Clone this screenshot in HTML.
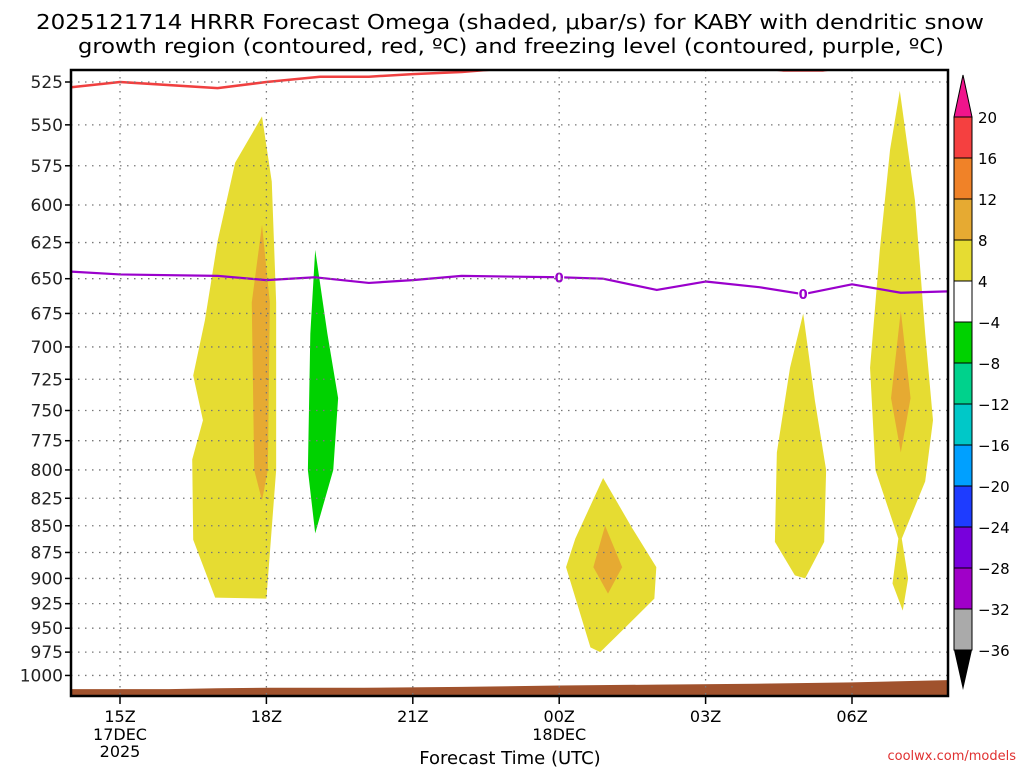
<!DOCTYPE html>
<html><head><meta charset="utf-8"><style>
body{margin:0;background:#fff;}
svg text{font-family:"DejaVu Sans","Liberation Sans",sans-serif;}
</style></head><body>
<svg id="c" width="1024" height="768" xmlns="http://www.w3.org/2000/svg">
<text x="36" y="29" font-size="20" textLength="948" lengthAdjust="spacingAndGlyphs">2025121714 HRRR Forecast Omega (shaded, μbar/s) for KABY with dendritic snow</text>
<text x="78" y="53" font-size="20" textLength="866" lengthAdjust="spacingAndGlyphs">growth region (contoured, red, ºC) and freezing level (contoured, purple, ºC)</text>
<g id="plot"></g>
<text x="510" y="764" font-size="18" text-anchor="middle">Forecast Time (UTC)</text>
<text x="1016" y="760" font-size="13" fill="#e03030" text-anchor="end">coolwx.com/models</text>
</svg>
<script>
const pTicks=[525,550,575,600,625,650,675,700,725,750,775,800,825,850,875,900,925,950,975,1000];
const xHours=[15,18,21,24,27,30];
const xLabels=["15Z","18Z","21Z","00Z","03Z","06Z"];
const xSub=["17DEC","","","18DEC","",""];
const cbLevels=["20","16","12","8","4","−4","−8","−12","−16","−20","−24","−28","−32","−36"];
const cbColors=["#f54040","#f08228","#e6aa32","#e6dc32","#ffffff","#00d200","#00d28c","#00c8c8","#00a0ff","#1e3cff","#7800dc","#a000c8","#aaaaaa"];
const yellowA=[[17.91,545],[18.11,585],[18.2,667],[18.2,800],[18.0,920],[16.95,919],[16.5,863],[16.48,791],[16.7,758],[16.5,722],[16.74,680],[17.0,624],[17.36,573]];
const orangeA=[[17.91,613],[18.07,667],[18.03,800],[17.91,827],[17.75,800],[17.7,667]];
const greenA=[[19.0,630],[19.25,690],[19.47,740],[19.37,800],[19.0,857],[18.85,800],[18.9,690]];
const yellowB=[[24.9,807],[25.48,851],[25.99,889],[25.95,920],[25.4,947],[24.84,975],[24.64,970],[24.14,889],[24.33,862]];
const orangeB=[[24.94,850],[25.29,889],[25.0,915],[24.7,889]];
const yellowC=[[29.0,675],[29.24,742],[29.47,800],[29.43,865],[29.04,900],[28.83,897],[28.42,865],[28.46,785],[28.73,716]];
const yellowD=[[30.98,530],[31.29,597],[31.5,690],[31.66,758],[31.5,810],[31.02,862],[31.15,900],[31.04,932],[30.83,905],[30.95,862],[30.48,800],[30.37,716],[30.57,630],[30.78,565]];
const orangeD=[[31.0,673],[31.2,740],[31.0,785],[30.8,740]];
const frzHours=[14,15,17,18,19,20.1,21,22,24,24.9,26,27,28.1,29,30,31,32];
const frzP=[645,647,648,651,649,653,651,648,649,650,658,652,656,661,654,660,659];
const redHours=[14,15,17,18,19.1,20.1,21,22,22.6,23.2];
const redP=[528,525,528.5,525,522,522,520.5,519.3,518,515];
const red2Hours=[27.8,28.6,29.4,30.0];
const red2P=[516,518.5,518.5,516];
const sfcHours=[14,16,17,18,20,22,24,26,28,30,32];
const sfcP=[1015,1015,1014,1013.5,1013.5,1012.5,1011,1010,1009,1007.5,1005];
const L=71,R=948,T=70,B=696;
const X=h=>120+(h-15)*48.8;
const Y=p=>82+Math.log(p/525)*921;
const NS="http://www.w3.org/2000/svg";
const g=document.getElementById('plot');
function mk(t,a,parent){const e=document.createElementNS(NS,t);for(const k in a)e.setAttribute(k,a[k]);(parent||g).appendChild(e);return e;}
const defs=mk('defs',{});const cp=mk('clipPath',{id:'clip'},defs);mk('rect',{x:L,y:T,width:R-L,height:B-T},cp);
const data=mk('g',{'clip-path':'url(#clip)'});
function poly(arr,fill,name){const e=mk('polygon',{points:arr.map(d=>X(d[0])+','+Y(d[1])).join(' '),fill:fill},data);

}
poly(yellowA,'#e6dc32','omega-4-8-region-a');poly(orangeA,'#e6aa32','omega-8-12-region-a');poly(greenA,'#00d200','omega-neg-region');
poly(yellowB,'#e6dc32','omega-4-8-region-b');poly(orangeB,'#e6aa32','omega-8-12-region-b');poly(yellowC,'#e6dc32','omega-4-8-region-c');
poly(yellowD,'#e6dc32','omega-4-8-region-d');poly(orangeD,'#e6aa32','omega-8-12-region-d');
pTicks.forEach(p=>{const l=mk('line',{x1:L,x2:R,y1:Y(p),y2:Y(p),stroke:'#777','stroke-dasharray':'1.5 5.5','stroke-width':1.3});


const t=mk('text',{x:L-8,y:Y(p)+6,'font-size':17,'text-anchor':'end',fill:'#222'});t.textContent=p;


mk('line',{x1:L-6,x2:L,y1:Y(p),y2:Y(p),stroke:'#000','stroke-width':1.5});});
xHours.forEach((h,i)=>{const l=mk('line',{x1:X(h),x2:X(h),y1:T,y2:B,stroke:'#777','stroke-dasharray':'1.5 5.5','stroke-width':1.3});


mk('line',{x1:X(h),x2:X(h),y1:B,y2:B+8,stroke:'#000','stroke-width':1.5});
const t=mk('text',{x:X(h),y:B+26,'font-size':16,'text-anchor':'middle'});t.textContent=xLabels[i];


if(xSub[i]){const s=mk('text',{x:X(h),y:B+44,'font-size':16,'text-anchor':'middle'});s.textContent=xSub[i];

}});
const yr=mk('text',{x:X(15),y:B+61,'font-size':16,'text-anchor':'middle'});yr.textContent='2025';


let tp='M'+L+','+B+' '+sfcHours.map((h,i)=>'L'+X(h)+','+Y(sfcP[i])).join(' ')+' L'+R+','+B+'Z';
const terr=mk('path',{d:tp,fill:'#a0522d'},data);


function line(hs,ps,col,name,w){const e=mk('polyline',{points:hs.map((h,i)=>X(h)+','+Y(ps[i])).join(' '),fill:'none',stroke:col,'stroke-width':w,'stroke-linejoin':'round'},data);

}
line(frzHours,frzP,'#9a00cc','freezing-level-line',2.2);
line(redHours,redP,'#f04040','dgz-line',2.5);
line(red2Hours,red2P,'#f04040','dgz-line-2',2.5);
[[24,649],[29,661]].forEach(d=>{mk('rect',{x:X(d[0])-5,y:Y(d[1])-7,width:10,height:14,fill:'#fff'},data);
const t=mk('text',{x:X(d[0]),y:Y(d[1])+5,'font-size':13,'font-weight':'bold','text-anchor':'middle',fill:'#9a00cc'},data);t.textContent='0';

});
const fr=mk('rect',{x:L,y:T,width:R-L,height:B-T,fill:'none',stroke:'#000','stroke-width':2.5});


const cx=954,cw=18,cTop=117,cStep=41;
const tri=mk('polygon',{points:`${cx},${cTop} ${cx+cw},${cTop} ${cx+cw/2},75`,fill:'#f0148c',stroke:'#000'});


cbColors.forEach((c,i)=>{const r=mk('rect',{x:cx,y:cTop+i*cStep,width:cw,height:cStep,fill:c,stroke:'#000','stroke-width':1});

});
const cb=cTop+cbColors.length*cStep;
const tri2=mk('polygon',{points:`${cx},${cb} ${cx+cw},${cb} ${cx+cw/2},690`,fill:'#000'});


cbLevels.forEach((s,i)=>{const t=mk('text',{x:978,y:cTop+i*cStep+6,'font-size':15});t.textContent=s;

});
</script>
</body></html>
